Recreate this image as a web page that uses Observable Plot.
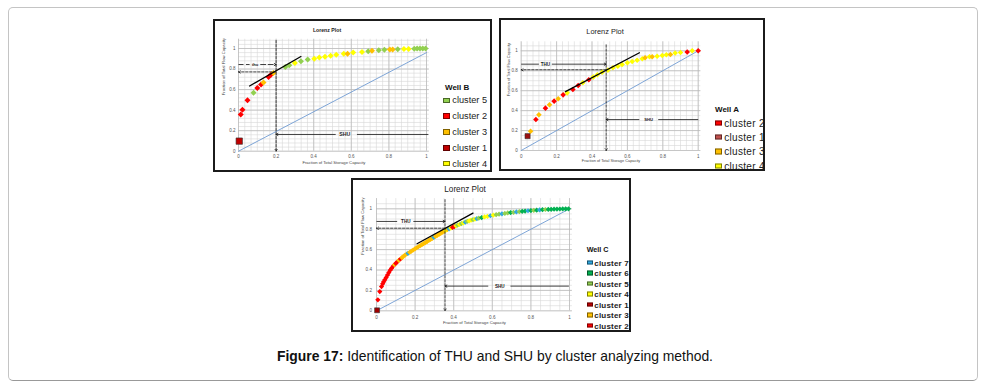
<!DOCTYPE html>
<html>
<head>
<meta charset="utf-8">
<script src="https://cdn.jsdelivr.net/npm/d3@7"></script>
<script src="https://cdn.jsdelivr.net/npm/@observablehq/plot@0.6"></script>
<style>
html,body{margin:0;padding:0;background:#fff;}
#page{position:relative;width:985px;height:388px;overflow:hidden;font-family:"Liberation Sans",Arial,sans-serif;}
#frame{position:absolute;left:8px;top:7px;width:970px;height:374px;box-sizing:border-box;border:1px solid #c4c4c4;border-bottom-color:#999;border-radius:5px;}
.panel{position:absolute;box-sizing:border-box;border:2px solid #1b1b1b;background:#fff;overflow:hidden;}
.panel svg{position:absolute;left:0;top:0;}
.ttl{position:absolute;transform:translate(-50%,-50%);white-space:nowrap;color:#222;}
.lgT{position:absolute;transform:translateY(-50%);font-weight:bold;color:#111;white-space:nowrap;}
.lgI{position:absolute;transform:translateY(-50%);white-space:nowrap;color:#222;display:flex;align-items:center;}
.sw{display:inline-block;box-sizing:border-box;border:0.8px solid rgba(0,0,0,.5);}
#cap{position:absolute;left:0;width:990px;text-align:center;top:348px;font-size:13.9px;color:#111;white-space:nowrap;}
</style>
</head>
<body>
<div id="page"><div id="frame"></div>
<div id="cap"><b>Figure 17:</b> Identification of THU and SHU by cluster analyzing method.</div>
</div>
<script>
const tickVals = [0, 0.2, 0.4, 0.6, 0.8, 1];
const tickFmt = d => String(+d.toFixed(1));

// ---------- Well B ----------
const wellB_x = [0.012,0.021,0.048,0.08,0.10,0.12,0.133,0.16,0.174,0.186,0.249,0.27,0.30,0.332,0.368,0.403,0.43,0.46,0.49,0.52,0.56,0.58,0.61,0.657,0.69,0.71,0.746,0.776,0.805,0.82,0.847,0.88,0.905,0.935,0.95,0.965,0.98,0.995];
const wellB_y = [0.358,0.404,0.495,0.57,0.616,0.65,0.67,0.723,0.746,0.762,0.82,0.837,0.86,0.876,0.892,0.90,0.912,0.92,0.93,0.94,0.95,0.95,0.96,0.967,0.974,0.977,0.984,0.987,0.99,0.99,0.993,0.995,0.996,0.998,1.0,1.0,1.0,1.0];
const wellB_c = [2,2,2,5,2,2,3,2,2,3,5,5,4,5,5,4,4,4,4,4,4,3,4,4,5,3,5,5,3,3,5,4,4,5,5,5,5,5];
const wellB_square = [0.004, 0.098];
const wellB_diag = [[0,0],[1,0.96]];
const wellB_tangent = [[0.059,0.635],[0.332,0.922]];
const wellB_legendLabels = ["cluster 5","cluster 2","cluster 3","cluster 1","cluster 4"];
const wellB_legendColors = ["#92d050","#ff0000","#ffc000","#c00000","#ffff00"];

// ---------- Well A ----------
const wellA_x = [0.053,0.083,0.10,0.137,0.16,0.186,0.209,0.237,0.26,0.292,0.322,0.348,0.382,0.407,0.43,0.457,0.49,0.518,0.546,0.57,0.6,0.627,0.655,0.684,0.70,0.725,0.74,0.768,0.797,0.82,0.843,0.87,0.9,0.938,0.966,1.0];
const wellA_y = [0.194,0.31,0.358,0.425,0.458,0.495,0.52,0.558,0.578,0.612,0.652,0.68,0.71,0.736,0.76,0.786,0.806,0.83,0.846,0.863,0.88,0.893,0.906,0.92,0.93,0.94,0.94,0.946,0.953,0.96,0.963,0.977,0.983,0.987,1.0,1.0];
const wellA_c = [3,2,3,2,3,2,3,2,4,2,2,4,2,4,4,4,4,4,4,4,4,4,4,4,3,4,3,4,4,4,3,4,4,2,4,2];
const wellA_square = [0.036, 0.144];
const wellA_diag = [[0,0],[1,1]];
const wellA_tangent = [[0.25,0.59],[0.668,0.98]];
const wellA_legendLabels = ["cluster 2","cluster 1","cluster 3","cluster 4"];
const wellA_legendColors = ["#ff0000","#c0504d","#ffc000","#ffff00"];

// ---------- Well C ----------
const wellC_x = [0.007,0.017,0.026,0.032,0.037,0.043,0.05,0.057,0.064,0.071,0.078,0.086,0.093,0.1,0.108,0.116,0.124,
 0.132,0.14,0.148,0.157,0.163,0.172,0.181,0.19,0.199,0.208,0.217,0.226,0.235,0.244,0.253,0.262,0.271,0.28,0.289,0.297,0.306,0.315,0.324,0.333,0.342,0.351,0.36,
 0.368,0.376,0.385,0.394,0.403,0.412,0.42,0.43,0.44,0.45,0.46,0.47,0.48,0.49,0.5,0.51,0.52,0.53,
 0.545,0.56,0.575,0.59,0.605,0.62,0.635,0.65,0.665,0.68,0.695,0.71,0.725,0.74,0.755,0.77,0.785,0.8,0.815,0.83,0.845,0.86,0.875,0.89,0.905,0.92,0.935,0.95,0.965,0.98,0.995];
const wellC_y = [0.108,0.189,0.238,0.265,0.284,0.304,0.326,0.35,0.375,0.398,0.416,0.437,0.452,0.465,0.48,0.495,0.508,
 0.521,0.534,0.546,0.557,0.564,0.574,0.585,0.596,0.607,0.618,0.628,0.638,0.648,0.658,0.668,0.679,0.69,0.70,0.71,0.72,0.73,0.74,0.75,0.76,0.77,0.78,0.79,
 0.797,0.804,0.811,0.818,0.826,0.833,0.84,0.847,0.854,0.862,0.869,0.876,0.882,0.888,0.893,0.898,0.903,0.908,
 0.914,0.92,0.926,0.932,0.937,0.942,0.947,0.951,0.955,0.959,0.963,0.966,0.969,0.972,0.975,0.978,0.981,0.983,0.985,0.987,0.989,0.991,0.993,0.994,0.995,0.996,0.997,0.998,0.999,1.0,1.0];
const wellC_c = [2,2,2,2,2,2,2,2,2,2,2,2,3,2,2,3,2,
 3,3,3,3,7,3,3,3,3,3,3,3,3,3,3,3,3,3,3,7,3,3,3,3,3,3,4,
 3,7,4,2,2,4,5,4,5,4,7,5,4,4,5,4,7,5,
 6,4,4,7,4,5,5,7,5,5,6,5,7,5,6,6,7,6,5,6,7,6,5,6,6,6,6,6,6,6,6];
const wellC_square = [0.003, 0.005];
const wellC_diag = [[0,0],[1,1]];
const wellC_tangent = [[0.21,0.657],[0.50,0.957]];
const wellC_legendLabels = ["cluster 7","cluster 6","cluster 5","cluster 4","cluster 1","cluster 3","cluster 2"];
const wellC_legendColors = ["#2fa8e0","#00b050","#92d050","#ffff00","#c00000","#ffc000","#ff0000"];

const clusterColors = {1:"#c00000",2:"#ff0000",3:"#ffc000",4:"#ffff00",5:"#92d050",6:"#00b050",7:"#2fa8e0"};

const panels = [
 { name:"Well B", box:{l:213,t:19,w:279,h:153}, px:{x0:238,x1:426,y0:150.7,y1:48},
   xmax:1.015, ymax:1.09, gridX:d3.range(0,1.016,1/30), gridY:d3.range(0,1.09,0.04),
   xs:wellB_x, ys:wellB_y, cs:wellB_c, sq:wellB_square, sqr:3.6, sqFill:"#c00000", r:2.7,
   diag:wellB_diag, tangent:wellB_tangent,
   ann:{xv:0.2, vTop:1.078, hY:0.772, thu:{y:0.844, a:0.059, b:0.118, lx:0.088, dash:"5,2.5", fs:4, lab:"thu"},
        shu:{y:0.163, a:0.515, b:0.63, end:1.01, lx:0.565, fs:5.2}},
   tickFont:4.5, padX:3.8, padY:3, axFont:4.2, xTitleDy:12.6, yTitleDx:-15.3,
   title:{text:"Lorenz Plot", x:327, y:30, fs:5.2, fw:"bold"},
   legend:{title:"Well B", tx:445, ty:86.7, tfs:8, x:443.3, y0:100.3, dy:15.85, sw:6.5, sh:5.6, gap:2.5, fs:9.2, fw:"normal", ls:"0px",
           labels:wellB_legendLabels, colors:wellB_legendColors}
 },
 { name:"Well A", box:{l:499,t:18,w:266,h:153}, px:{x0:520.7,x1:697.7,y0:150,y1:50.3},
   xmax:1.015, ymax:1.09, gridX:d3.range(0,1.016,1/30), gridY:d3.range(0,1.09,0.05),
   xs:wellA_x, ys:wellA_y, cs:wellA_c, sq:wellA_square, sqr:2.9, sqFill:"#9c1010", r:2.5,
   diag:wellA_diag, tangent:wellA_tangent,
   ann:{xv:0.48, vTop:1.06, hY:0.81, thu:{y:0.866, a:0.1, b:0.175, lx:0.137, dash:null, fs:4.6, lab:"THU"},
        shu:{y:0.31, a:0.665, b:0.774, end:1.0, lx:0.72, fs:4.2}},
   tickFont:4.5, padX:4.5, padY:3.5, axFont:3.9, xTitleDy:11.7, yTitleDx:-12.7,
   title:{text:"Lorenz Plot", x:605, y:30.5, fs:7.4, fw:"normal"},
   legend:{title:"Well A", tx:715, ty:109, tfs:8, x:715, y0:123, dy:14.23, sw:7, sh:5.2, gap:2.3, fs:10, fw:"normal", ls:"0.3px",
           labels:wellA_legendLabels, colors:wellA_legendColors}
 },
 { name:"Well C", box:{l:351,t:178,w:280,h:154}, px:{x0:376,x1:569,y0:310.3,y1:208.3},
   xmax:1.015, ymax:1.1, gridX:d3.range(0,1.016,0.05), gridY:d3.range(0,1.1,0.05),
   xs:wellC_x, ys:wellC_y, cs:wellC_c, sq:wellC_square, sqr:2.8, sqFill:"#a00000", r:2.35,
   diag:wellC_diag, tangent:wellC_tangent,
   ann:{xv:0.355, vTop:1.09, hY:0.81, thu:{y:0.876, a:0.107, b:0.193, lx:0.152, dash:null, fs:4.6, lab:"THU"},
        shu:{y:0.242, a:0.577, b:0.694, end:0.997, lx:0.639, fs:4.6}},
   tickFont:4.6, padX:4.8, padY:4.5, axFont:4.2, xTitleDy:13, yTitleDx:-14.3,
   title:{text:"Lorenz Plot", x:465, y:188.5, fs:8.2, fw:"normal"},
   legend:{title:"Well C", tx:586.7, ty:249, tfs:7.2, x:586.7, y0:262.6, dy:10.5, sw:6, sh:4.6, gap:1.6, fs:8, fw:"bold", ls:"0.2px",
           labels:wellC_legendLabels, colors:wellC_legendColors}
 }
];

const page = document.getElementById("page");
const ink = "#111";

for (const P of panels) {
  const div = document.createElement("div");
  div.className = "panel";
  Object.assign(div.style, {left:P.box.l+"px", top:P.box.t+"px", width:P.box.w+"px", height:P.box.h+"px"});
  page.appendChild(div);

  const W = P.box.w - 4, H = P.box.h - 4, ox = P.box.l + 2, oy = P.box.t + 2;
  const kx = P.px.x1 - P.px.x0, ky = P.px.y0 - P.px.y1;
  const pts = P.xs.map((x, i) => ({x, y: P.ys[i], c: P.cs[i]}));
  const A = P.ann;

  const chart = Plot.plot({
    width: W, height: H,
    marginLeft: P.px.x0 - ox,
    marginRight: ox + W - (P.px.x0 + kx * P.xmax),
    marginTop: (P.px.y0 - ky * P.ymax) - oy,
    marginBottom: oy + H - P.px.y0,
    x: {domain: [0, P.xmax]},
    y: {domain: [0, P.ymax]},
    color: {type: "identity"},
    style: {fontFamily: "'Liberation Sans', Arial, sans-serif", background: "transparent", color: "#555", overflow: "visible"},
    marks: [
      Plot.ruleX(P.gridX, {y1: 0, y2: P.ymax, stroke: "#d6d6d6", strokeWidth: 0.6}),
      Plot.ruleY(P.gridY, {x1: 0, x2: P.xmax, stroke: "#d6d6d6", strokeWidth: 0.6}),
      Plot.ruleX(tickVals, {y1: 0, y2: P.ymax, stroke: "#b8b8b8", strokeWidth: 0.7}),
      Plot.ruleY(tickVals, {x1: 0, x2: P.xmax, stroke: "#b8b8b8", strokeWidth: 0.7}),
      Plot.axisX({ticks: tickVals, tickSize: 0, tickPadding: P.padX, fontSize: P.tickFont, tickFormat: tickFmt, label: null}),
      Plot.axisY({ticks: tickVals, tickSize: 0, tickPadding: P.padY, fontSize: P.tickFont, tickFormat: tickFmt, label: null}),
      Plot.text(["Fraction of Total Storage Capacity"], {frameAnchor: "bottom", dy: P.xTitleDy, fontSize: P.axFont, fill: "#444"}),
      Plot.text(["Fraction of Total Flow Capacity"], {frameAnchor: "left", dx: P.yTitleDx, rotate: -90, fontSize: P.axFont, fill: "#444"}),
      Plot.line(P.diag, {x: d => d[0], y: d => d[1], stroke: "#6f9bd3", strokeWidth: 0.9}),
      Plot.dot(pts, {x: "x", y: "y", fill: d => clusterColors[d.c], symbol: "diamond2", r: P.r}),
      Plot.dot([P.sq], {x: d => d[0], y: d => d[1], symbol: "square", r: P.sqr, fill: P.sqFill, stroke: "#333", strokeWidth: 0.6}),
      Plot.line(P.tangent, {x: d => d[0], y: d => d[1], stroke: "#000", strokeWidth: 1.3}),
      // dashed guide lines
      Plot.arrow([0], {x1: A.xv, x2: A.xv, y1: A.vTop, y2: 0, stroke: ink, strokeWidth: 0.8, strokeDasharray: "2.5,1.5", headLength: 4}),
      Plot.arrow([0], {x1: A.xv, x2: 0, y1: A.hY, y2: A.hY, stroke: ink, strokeWidth: 0.8, strokeDasharray: "2.5,1.5", headLength: 4}),
      // THU
      Plot.link([0], {x1: 0, x2: A.thu.a, y1: A.thu.y, y2: A.thu.y, stroke: ink, strokeWidth: 0.8, strokeDasharray: A.thu.dash}),
      Plot.arrow([0], {x1: A.thu.b, x2: A.xv, y1: A.thu.y, y2: A.thu.y, stroke: ink, strokeWidth: 0.8, strokeDasharray: A.thu.dash, headLength: 4}),
      Plot.text([A.thu.lab], {x: A.thu.lx, y: A.thu.y, fontSize: A.thu.fs, fontWeight: "bold", fill: "#222"}),
      // SHU
      Plot.arrow([0], {x1: A.shu.a, x2: A.xv, y1: A.shu.y, y2: A.shu.y, stroke: ink, strokeWidth: 0.8, headLength: 4}),
      Plot.link([0], {x1: A.shu.b, x2: A.shu.end, y1: A.shu.y, y2: A.shu.y, stroke: ink, strokeWidth: 0.8}),
      Plot.text(["SHU"], {x: A.shu.lx, y: A.shu.y, fontSize: A.shu.fs, fontWeight: "bold", fill: "#222"})
    ]
  });
  div.appendChild(chart);

  // title
  const t = document.createElement("div");
  t.className = "ttl";
  t.textContent = P.title.text;
  Object.assign(t.style, {left: (P.title.x - ox) + "px", top: (P.title.y - oy) + "px", fontSize: P.title.fs + "px", fontWeight: P.title.fw});
  div.appendChild(t);

  // legend
  const L = P.legend;
  const lt = document.createElement("div");
  lt.className = "lgT";
  lt.textContent = L.title;
  Object.assign(lt.style, {left: (L.tx - ox) + "px", top: (L.ty - oy) + "px", fontSize: L.tfs + "px"});
  div.appendChild(lt);
  L.labels.forEach((lab, i) => {
    const it = document.createElement("div");
    it.className = "lgI";
    Object.assign(it.style, {left: (L.x - ox) + "px", top: (L.y0 + i * L.dy - oy) + "px", fontSize: L.fs + "px", fontWeight: L.fw, letterSpacing: L.ls});
    const sw = document.createElement("span");
    sw.className = "sw";
    Object.assign(sw.style, {width: L.sw + "px", height: L.sh + "px", background: L.colors[i], marginRight: L.gap + "px"});
    it.appendChild(sw);
    it.appendChild(document.createTextNode(lab));
    div.appendChild(it);
  });
}
</script>
</body>
</html>
